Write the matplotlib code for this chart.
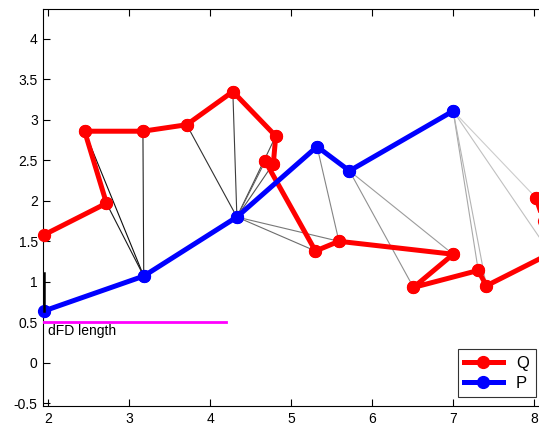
import matplotlib
matplotlib.use("Agg")
import matplotlib.pyplot as plt
import numpy as np

plt.rcParams['font.family'] = ['Liberation Sans', 'DejaVu Sans']

# curve Q (red) and curve P (blue)
q_x = [1.95, 2.72, 2.45, 3.17, 3.71, 4.28, 4.81, 4.78, 4.68, 5.30, 5.59, 7.00, 6.51, 7.31, 7.41, 8.20, 8.12, 8.02]
q_y = [1.58, 1.97, 2.86, 2.86, 2.94, 3.35, 2.80, 2.46, 2.49, 1.38, 1.50, 1.34, 0.93, 1.14, 0.95, 1.35, 1.75, 2.04]
p_x = [1.95, 3.18, 4.33, 5.32, 5.72, 7.00]
p_y = [0.64, 1.07, 1.80, 2.67, 2.37, 3.11]

# leash lines: (index in Q, index in P)
links = [(2, 1), (1, 1), (3, 1), (4, 2), (5, 2), (6, 2), (7, 2), (8, 2),
         (9, 2), (10, 2), (10, 3), (12, 4), (11, 4), (13, 5), (14, 5),
         (15, 5), (17, 5)]

dfd_len = 0.5
dfd_x_end = 4.19

XMIN, XMAX = 1.94, 8.06

fig = plt.figure(figsize=(5.39, 4.28), dpi=100)
ax = fig.add_axes([43.3 / 539, 22 / 428, 1 - 43.3 / 539, (406 - 9) / 428])

n = len(links)
for k, (qi, pi) in enumerate(links):
    g = 0.05 + 0.75 * k / (n - 1)
    ax.plot([q_x[qi], p_x[pi]], [q_y[qi], p_y[pi]], color=(g, g, g), lw=0.8, zorder=1)

# lines are clipped, markers inside the x range are drawn whole (like MATLAB)
for xs, ys, col, name in [(q_x, q_y, '#ff0000', 'Q'), (p_x, p_y, '#0000ff', 'P')]:
    ax.plot(xs, ys, color=col, lw=3.6, marker='o', ms=8.5, label=name, zorder=3)
    vis = [(a, b) for a, b in zip(xs, ys) if XMIN <= a <= XMAX]
    ax.plot([v[0] for v in vis], [v[1] for v in vis], ls='none', marker='o', ms=8.5,
            color=col, clip_on=False, zorder=3)

# dFD indicator
ax.plot([1.95, 1.95], [p_y[0], p_y[0] + dfd_len - 0.03], color='black', lw=1.8, zorder=4)
ax.plot([1.94, dfd_x_end], [dfd_len, dfd_len], color='#ff00ff', lw=2, zorder=4)
ax.text(2.0, 0.39, 'dFD length', fontsize=10, va='center', ha='left')

ax.set_xlim(XMIN, XMAX)
ax.set_ylim(-0.535, 4.37)
ax.set_xticks([2, 3, 4, 5, 6, 7, 8])
ax.set_yticks([-0.5, 0, 0.5, 1, 1.5, 2, 2.5, 3, 3.5, 4])
ax.set_yticklabels(['-0.5', '0', '0.5', '1', '1.5', '2', '2.5', '3', '3.5', '4'])
ax.tick_params(direction='in', top=True, right=False, length=5, labelsize=10, pad=4)
ax.spines['right'].set_visible(False)

leg = ax.legend(loc='lower right', bbox_to_anchor=(0.993, 0.022), fontsize=12,
                frameon=True, fancybox=False, edgecolor='black', handlelength=2.3,
                borderaxespad=0, labelspacing=0.3)
leg.get_frame().set_linewidth(0.8)

fig.savefig('out.png', dpi=100)
